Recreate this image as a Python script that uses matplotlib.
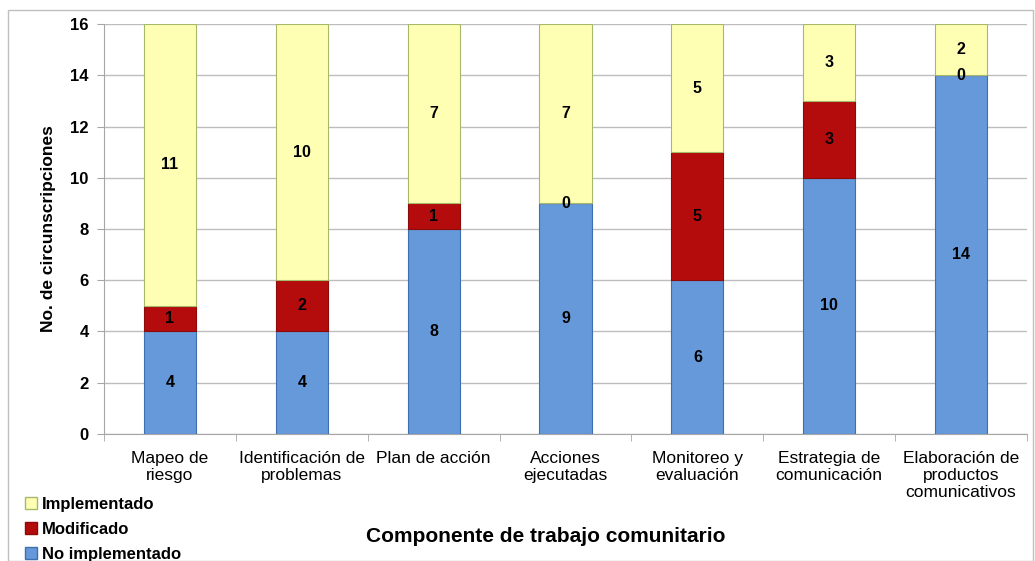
import matplotlib
matplotlib.use("Agg")
import matplotlib.pyplot as plt
from matplotlib.patches import Patch, Rectangle
import numpy as np

plt.rcParams['font.family'] = ['Liberation Sans', 'DejaVu Sans']

categories = ["Mapeo de\nriesgo", "Identificación de\nproblemas", "Plan de acción",
              "Acciones\nejecutadas", "Monitoreo y\nevaluación", "Estrategia de\ncomunicación",
              "Elaboración de\nproductos\ncomunicativos"]
no_impl = [4, 4, 8, 9, 6, 10, 14]
modif = [1, 2, 1, 0, 5, 3, 0]
impl = [11, 10, 7, 7, 5, 3, 2]
yticks = [0, 2, 4, 6, 8, 10, 12, 14, 16]

c_blue, e_blue = "#6699DA", "#3F6FAE"
c_red, e_red = "#B40C0C", "#8C0A0A"
c_yel, e_yel = "#FFFFB4", "#A6B86A"

fig = plt.figure(figsize=(10.35, 5.61), dpi=100)
fig.patches.append(Rectangle((0.008, 0.0), 0.99, 0.982, transform=fig.transFigure,
                             fill=False, edgecolor="#BFBFBF", linewidth=1))
ax = fig.add_axes([0.1005, 0.2264, 0.8918, 0.7308])

x = np.arange(len(categories))
w = 0.395
b1 = np.array(no_impl)
b2 = b1 + np.array(modif)
ax.bar(x, no_impl, w, color=c_blue, edgecolor=e_blue, linewidth=0.8, zorder=3)
ax.bar(x, modif, w, bottom=b1, color=c_red, edgecolor=e_red, linewidth=0.8, zorder=3)
ax.bar(x, impl, w, bottom=b2, color=c_yel, edgecolor=e_yel, linewidth=0.8, zorder=3)

for i in range(len(x)):
    segs = [(0, no_impl[i]), (b1[i], modif[i]), (b2[i], impl[i])]
    for bot, v in segs:
        ax.text(x[i], bot + v / 2, str(v), ha="center", va="center",
                fontsize=11.5, fontweight="bold", color="black", zorder=4)

ax.set_xlim(-0.5, len(categories) - 0.5)
ax.set_ylim(0, 16)
ax.set_yticks(yticks)
ax.set_yticklabels([str(t) for t in yticks], fontsize=12, fontweight="bold")
ax.yaxis.grid(True, color="#BDBDBD", linewidth=1, zorder=0)
ax.set_axisbelow(True)
ax.set_xticks(x)
ax.set_xticklabels(categories, fontsize=12.5, linespacing=1.2)
ax.set_xticks(np.arange(-0.5, len(categories)), minor=True)
ax.tick_params(axis="x", which="major", length=0, pad=12)
ax.tick_params(axis="x", which="minor", length=5, color="#A6A6A6")
ax.tick_params(axis="y", length=5, color="#A6A6A6", pad=6)
for s in ["top", "right"]:
    ax.spines[s].set_visible(False)
for s in ["left", "bottom"]:
    ax.spines[s].set_color("#A6A6A6")

ax.set_ylabel("No. de circunscripciones", fontsize=12.5, fontweight="bold", labelpad=10)
fig.text(0.527, 0.043, "Componente de trabajo comunitario", ha="center", va="center",
         fontsize=15, fontweight="bold")

handles = [Patch(facecolor=c_yel, edgecolor=e_yel, label="Implementado"),
           Patch(facecolor=c_red, edgecolor=e_red, label="Modificado"),
           Patch(facecolor=c_blue, edgecolor=e_blue, label="No implementado")]
leg = fig.legend(handles=handles, loc="upper left", bbox_to_anchor=(0.024, 0.114),
                 frameon=False, prop={"size": 12, "weight": "bold"},
                 handlelength=0.7, handleheight=0.7, handletextpad=0.3,
                 labelspacing=0.6, borderpad=0, borderaxespad=0)

fig.savefig("out.png", dpi=100)
